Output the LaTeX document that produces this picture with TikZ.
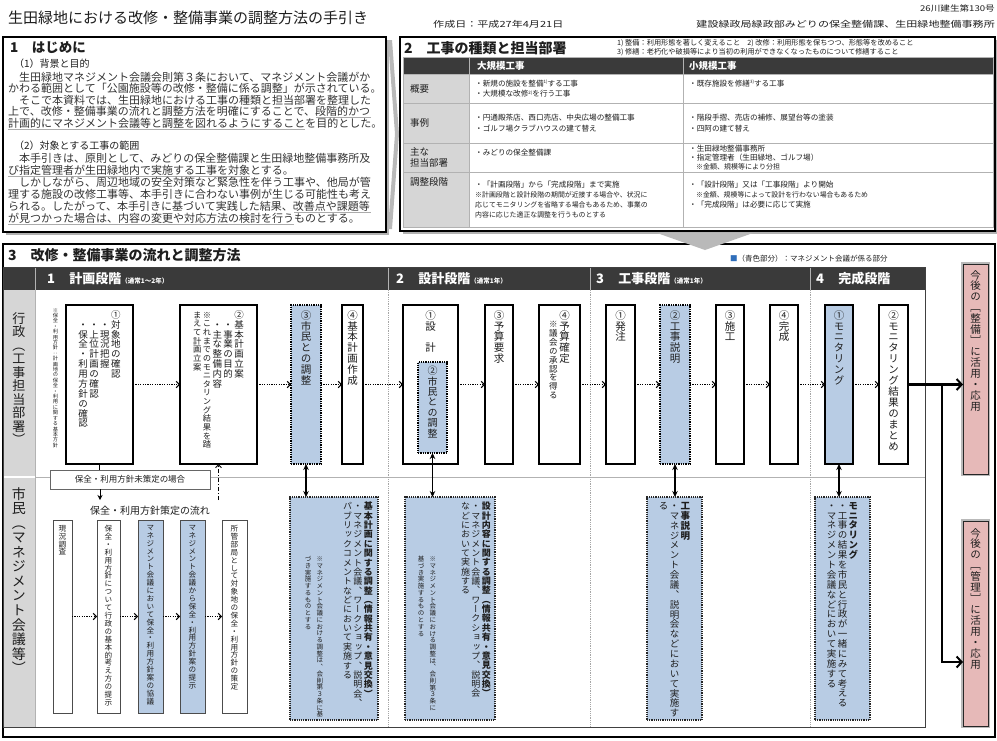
\documentclass[tikz,border=0pt]{standalone}
\usepackage{fontspec}
\setmainfont{Noto Sans CJK JP}
\newfontfamily\vfont[RawFeature=+vert]{Noto Sans CJK JP}
\usetikzlibrary{arrows.meta,calc}
\definecolor{blueF}{HTML}{B8CCE4}
\definecolor{pinkF}{HTML}{E6B9B8}
\definecolor{darkH}{HTML}{3A3A3A}
\definecolor{labG}{HTML}{D6D6D6}
\definecolor{txt}{HTML}{1E1E1E}
\definecolor{ptxt}{HTML}{333333}
\definecolor{legB}{HTML}{2F6EBA}
\newcommand\vsmall{\fontsize{8}{8}\selectfont}
\newcommand\sups[1]{\raisebox{2.5pt}{\fontsize{4.5}{4.5}\selectfont #1}}
\newcommand\mkbox[6]{\node[#1, anchor=north west, inner sep=0pt, outer sep=0pt, minimum width={(#5-#3)*1pt}, minimum height={(#6-#4)*1pt}] (#2) at (#3,#4) {};}

\ExplSyntaxOn
\seq_new:N \l__vt_cols_seq
\cs_new_protected:Npn \__vt_col_aux:nn #1#2
  {
    \group_begin:
    #1
    \hbox_to_wd:nn { 1em }
      {
        \hss
        \vtop
          {
            \baselineskip = 1.04em
            \lineskip = 0pt
            \lineskiplimit = -100pt
            \tl_map_inline:nn {#2} { \hbox_to_wd:nn { 1em } { \hss ##1 \hss } }
          }
        \hss
      }
    \group_end:
  }
\cs_generate_variant:Nn \__vt_col_aux:nn { ne }
\cs_new_protected:Npn \__vt_col:n #1
  {
    \tl_if_head_eq_charcode:nNTF {#1} !
      { \__vt_col_aux:ne { \bfseries } { \tl_tail:n {#1} } }
      {
        \tl_if_head_eq_charcode:nNTF {#1} ?
          { \__vt_col_aux:ne { \vsmall } { \tl_tail:n {#1} } }
          { \__vt_col_aux:nn { } {#1} }
      }
  }
\NewDocumentCommand \VT { O{0.15em} m }
  {
    \seq_set_split:Nnn \l__vt_cols_seq { | } {#2}
    \seq_reverse:N \l__vt_cols_seq
    \hbox:n
      {
        \seq_map_inline:Nn \l__vt_cols_seq { \__vt_col:n {##1} \hskip #1 \relax }
        \unskip
      }
  }
\ExplSyntaxOff

\begin{document}
\begin{tikzpicture}[x=1pt,y=-1pt,
  secbox/.style={draw=black, line width=1.5pt, fill=white, preaction={fill=black!30, transform canvas={xshift=2.5pt,yshift=-2.5pt}}},
  frame3/.style={draw=black, line width=1.2pt, fill=white},
  wbox/.style={draw=black, line width=1.3pt, fill=white},
  bbox/.style={draw=black, line width=1.3pt, densely dotted, fill=blueF},
  bboxs/.style={draw=black, line width=1.3pt, fill=blueF},
  cbox/.style={draw=black!85, line width=1.2pt, densely dotted, fill=blueF},
  fbox/.style={draw=black!70, line width=0.8pt, fill=white},
  fboxb/.style={draw=black!70, line width=0.8pt, fill=blueF},
  ffbox/.style={draw=black!60, line width=0.7pt, double=white, double distance=1.2pt, fill=white},
  mbox/.style={draw=black!60, line width=0.8pt, fill=white},
  pbox/.style={draw=black!85, line width=0.8pt, fill=pinkF, preaction={draw=gray!55, line width=4pt}},
  thd/.style={fill=darkH, draw=gray!60, line width=0.5pt},
  tlab/.style={fill=labG, draw=gray!60, line width=0.5pt},
  tcell/.style={fill=white, draw=gray!60, line width=0.5pt},
  vt/.style={inner sep=0pt, text=txt, anchor=north},
  ht/.style={inner sep=0pt, text=txt, anchor=west},
  cellt/.style={inner sep=0pt, text=txt, anchor=west, align=left, font=\fontsize{7.6}{10.5}\selectfont},
  hdr/.style={inner sep=0pt, text=white, anchor=west, font=\bfseries\fontsize{13}{13}\selectfont},
  uline/.style={gray!65, line width=0.9pt},
  flow/.style={line width=1.2pt, dash pattern=on 1.2pt off 1.2pt, -{Straight Barb[length=3pt,width=6.5pt,line width=1.1pt]}},
  dbl/.style={line width=1.2pt, {Stealth[length=6pt,width=5.5pt]}-{Stealth[length=6pt,width=5.5pt]}},
  conn/.style={line width=1pt},
  connarr/.style={line width=1pt, -{Stealth[length=5pt,width=5pt]}},
  dasharr/.style={line width=1pt, dash pattern=on 4pt off 2pt on 1pt off 2pt, -{Straight Barb[length=3pt,width=6pt]}},
  thickarr/.style={line width=2.5pt, -{Straight Barb[length=5pt,width=11pt,line width=2pt]}}
]
\useasboundingbox (0,0) rectangle (997,740);
\fill[white] (0,0) rectangle (997,740);

% ---------- header ----------
\node[ht, font=\fontsize{15}{15}\selectfont] (title) at (8,18) {生田緑地における改修・整備事業の調整方法の手引き};
\node[ht, anchor=east, font=\fontsize{8}{8}\selectfont] (docno) at (995,8) {\scalebox{1.2}[1]{26川建生第130号}};
\node[ht, font=\fontsize{8.5}{8.5}\selectfont] (date) at (433,24) {\scalebox{1.3}[1]{作成日：平成27年4月21日}};
\node[ht, anchor=east, font=\fontsize{8.5}{8.5}\selectfont] (dept) at (995,24) {\scalebox{1.3}[1]{建設緑政局緑政部みどりの保全整備課、生田緑地整備事務所}};

% ---------- section 1 ----------
\mkbox{secbox}{S1}{3}{37}{386}{232}
\fill[gray!55] (388,40) -- (392,40) -- (399,134) -- (392,229) -- (388,229) -- (395,134) -- cycle;
\node[ht, font=\bfseries\fontsize{13.5}{13.5}\selectfont] (s1t) at (10,48) {1\hspace{1em}はじめに};
\node[ht, font=\fontsize{10}{10}\selectfont] (s1a) at (14,64) {（1）背景と目的};
\draw[uline] (316,117.5) -- (371,117.5);
\draw[uline] (8,129.1) -- (305,129.1);
\draw[uline] (8,176.2) -- (250,176.2);
\draw[uline] (294,212.2) -- (371,212.2);
\draw[uline] (8,224.2) -- (294,224.2);
\node[ht, text=ptxt, anchor=north west, align=left, font=\fontsize{11}{11.6}\selectfont] (s1p1) at (8,71.5) {%
　生田緑地マネジメント会議会則第３条において、マネジメント会議がか\\
かわる範囲として「公園施設等の改修・整備に係る調整」が示されている。\\
　そこで本資料では、生田緑地における工事の種類と担当部署を整理した\\
上で、改修・整備事業の流れと調整方法を明確にすることで、段階的かつ\\
計画的にマネジメント会議等と調整を図れるようにすることを目的とした。};
\node[ht, font=\fontsize{10}{10}\selectfont] (s1b) at (14,146) {（2）対象とする工事の範囲};
\node[ht, text=ptxt, anchor=north west, align=left, font=\fontsize{11}{12}\selectfont] (s1p2) at (8,153) {%
　本手引きは、原則として、みどりの保全整備課と生田緑地整備事務所及\\
び指定管理者が生田緑地内で実施する工事を対象とする。\\
　しかしながら、周辺地域の安全対策など緊急性を伴う工事や、他局が管\\
理する施設の改修工事等、本手引きに合わない事例が生じる可能性も考え\\
られる。したがって、本手引きに基づいて実践した結果、改善点や課題等\\
が見つかった場合は、内容の変更や対応方法の検討を行うものとする。};

% ---------- section 2 ----------
\mkbox{secbox}{S2}{400}{37}{995}{231}
\node[ht, font=\bfseries\fontsize{14}{14}\selectfont] (s2t) at (404,48) {2\hspace{1em}工事の種類と担当部署};
\node[ht, anchor=north west, align=left, font=\fontsize{7.2}{8.4}\selectfont] (fn) at (617,39.5) {1) 整備：利用形態を著しく変えること　2) 改修：利用形態を保ちつつ、形態等を改めること\\3) 修繕：老朽化や破損等により当初の利用ができなくなったものについて修繕すること};
\mkbox{thd}{TH0}{403}{57}{469}{74}
\mkbox{thd}{TH1}{469}{57}{683}{74}
\mkbox{thd}{TH2}{683}{57}{993}{74}
\mkbox{tlab}{L1}{403}{74}{469}{103}
\mkbox{tcell}{A1}{469}{74}{683}{103}
\mkbox{tcell}{B1}{683}{74}{993}{103}
\mkbox{tlab}{L2}{403}{103}{469}{143}
\mkbox{tcell}{A2}{469}{103}{683}{143}
\mkbox{tcell}{B2}{683}{103}{993}{143}
\mkbox{tlab}{L3}{403}{143}{469}{172}
\mkbox{tcell}{A3}{469}{143}{683}{172}
\mkbox{tcell}{B3}{683}{143}{993}{172}
\mkbox{tlab}{L4}{403}{172}{469}{227}
\mkbox{tcell}{A4}{469}{172}{683}{227}
\mkbox{tcell}{B4}{683}{172}{993}{227}
\node[ht, text=white, font=\bfseries\fontsize{9.5}{9.5}\selectfont] at ($(TH1.west)+(8,0)$) {大規模工事};
\node[ht, text=white, font=\bfseries\fontsize{9.5}{9.5}\selectfont] at ($(TH2.west)+(6,0)$) {小規模工事};
\node[cellt, font=\fontsize{9.5}{11}\selectfont] at ($(L1.west)+(7,0)$) {概要};
\node[cellt, font=\fontsize{9.5}{11}\selectfont] at ($(L2.west)+(7,0)$) {事例};
\node[cellt, font=\fontsize{9.5}{11}\selectfont] at ($(L3.west)+(7,0)$) {主な\\担当部署};
\node[cellt, font=\fontsize{9.5}{11}\selectfont] at ($(L4.west)+(7,-18)$) {調整段階};
\node[cellt] at ($(A1.west)+(6,0)$) {・新規の施設を整備\sups{1)}する工事\\・大規模な改修\sups{2)}を行う工事};
\node[cellt] at ($(B1.west)+(6,-5)$) {・既存施設を修繕\sups{3)}する工事};
\node[cellt, font=\fontsize{7.6}{11.5}\selectfont] at ($(A2.west)+(6,0)$) {・円通殿茶店、西口売店、中央広場の整備工事\\・ゴルフ場クラブハウスの建て替え};
\node[cellt, font=\fontsize{7.6}{11.5}\selectfont] at ($(B2.west)+(6,0)$) {・階段手摺、売店の補修、展望台等の塗装\\・四阿の建て替え};
\node[cellt] at ($(A3.west)+(6,-5)$) {・みどりの保全整備課};
\node[cellt, font=\fontsize{7.6}{9.3}\selectfont] at ($(B3.west)+(6,0)$) {・生田緑地整備事務所\\・指定管理者（生田緑地、ゴルフ場）\\{\fontsize{7}{7}\selectfont 　※金額、規模等により分担}};
\node[cellt, font=\fontsize{7.6}{10}\selectfont] at ($(A4.west)+(6,0)$) {・「計画段階」から「完成段階」まで実施\\{\fontsize{6.9}{7}\selectfont ※計画段階と設計段階の期間が近接する場合や、状況に}\\{\fontsize{6.9}{7}\selectfont 応じてモニタリングを省略する場合もあるため、事業の}\\{\fontsize{6.9}{7}\selectfont 内容に応じた適正な調整を行うものとする}};
\node[cellt, font=\fontsize{7.6}{10}\selectfont] at ($(B4.west)+(6,-5)$) {・「設計段階」又は「工事段階」より開始\\{\fontsize{6.9}{7}\selectfont 　※金額、規模等によって設計を行わない場合もあるため}\\・「完成段階」は必要に応じて実施};

% ---------- section 3 ----------
\mkbox{frame3}{S3}{3}{244}{995}{737}
\fill[gray!55] (657,233) -- (753,233) -- (705,250) -- cycle;
\node[ht, font=\bfseries\fontsize{14}{14}\selectfont] (s3t) at (8,255) {3\hspace{1em}改修・整備事業の流れと調整方法};
\node[ht, font=\fontsize{7.5}{7.5}\selectfont] (legend) at (730,259) {{\color{legB}■}（青色部分）：マネジメント会議が係る部分};

\fill[darkH] (3,267) rectangle (925,290);
\fill[labG] (3,290) rectangle (35,727);
\draw[white, line width=1.5pt] (3,477) -- (35,477);
\draw[gray!60, line width=0.6pt] (35,477) -- (925,477);
\draw[gray!60, line width=0.8pt] (35,267) -- (35,727);
\foreach \xx in {388,590,810} {
  \draw[gray!60, line width=0.6pt] (\xx,267) -- (\xx,290);
  \draw[gray!70, densely dotted, line width=0.8pt] (\xx,290) -- (\xx,727);
}
\draw[black!75, line width=1pt] (3,267) rectangle (925,727);

\node[hdr] (H1) at (47,278.5) {1\hspace{1.1em}計画段階{\fontsize{6.5}{6.5}\selectfont（通常1～2年）}};
\node[hdr] (H2) at (396,278.5) {2\hspace{1.1em}設計段階{\fontsize{6.5}{6.5}\selectfont（通常1年）}};
\node[hdr] (H3) at (596,278.5) {3\hspace{1.1em}工事段階{\fontsize{6.5}{6.5}\selectfont（通常1年）}};
\node[hdr] (H4) at (816,278.5) {4\hspace{1.1em}完成段階};

% row labels
\node[vt, font=\vfont\fontsize{13}{13}\selectfont] (rl1) at (19,312) {\VT{行政（工事担当部署）}};
\node[vt, font=\vfont\fontsize{14}{14}\selectfont] (rl2) at (19,487) {\VT{市民（マネジメント会議等）}};

% administration row boxes
\mkbox{wbox}{P1a}{66}{305}{133}{464}
\mkbox{wbox}{P1b}{180}{305}{257}{464}
\mkbox{bbox}{P1c}{291}{305}{321}{464}
\mkbox{wbox}{P1d}{342}{305}{363}{464}
\mkbox{wbox}{P2a}{403}{305}{458}{464}
\mkbox{bbox}{P2in}{418}{362}{447}{453}
\mkbox{wbox}{P2b}{485}{305}{513}{464}
\mkbox{wbox}{P2c}{539}{305}{580}{464}
\mkbox{wbox}{P3a}{606}{305}{635}{464}
\mkbox{bbox}{P3b}{660}{305}{690}{464}
\mkbox{wbox}{P3c}{716}{305}{744}{464}
\mkbox{wbox}{P3d}{770}{305}{798}{464}
\mkbox{bboxs}{P4a}{825}{305}{853}{464}
\mkbox{wbox}{P4b}{879}{305}{908}{464}

\node[vt, font=\vfont\fontsize{5.2}{5.2}\selectfont] (note0) at (55.5,308) {\VT{※保全・利用方針：計画地の保全・利用に関する基本方針}};
\node[vt, font=\vfont\fontsize{9.5}{9.5}\selectfont] at ($(P1a.north)+(0,5)$) {\VT{①対象地の確認|　・現況把握|　・上位計画の確認|　・保全・利用方針の確認}};
\node[vt, font={\vfont\fontsize{9.5}{9.5}\selectfont\def\vsmall{\fontsize{8.3}{8.3}\selectfont}}] at ($(P1b.north)+(0,5)$) {\VT{②基本計画立案|　・事業の目的|　・主な整備内容|?※これまでのモニタリング結果を踏|?まえて計画立案}};
\node[vt, font=\vfont\fontsize{10.5}{10.5}\selectfont] at ($(P1c.north)+(0,5)$) {\VT{③市民との調整}};
\node[vt, font=\vfont\fontsize{10.5}{10.5}\selectfont] at ($(P1d.north)+(0,5)$) {\VT{④基本計画作成}};
\node[vt, font=\vfont\fontsize{10.5}{10.5}\selectfont] at ($(P2a.north)+(0,5)$) {\VT{①設　計}};
\node[vt, font=\vfont\fontsize{10}{10}\selectfont] at ($(P2in.north)+(0,4)$) {\VT{②市民との調整}};
\node[vt, font=\vfont\fontsize{10.5}{10.5}\selectfont] at ($(P2b.north)+(0,5)$) {\VT{③予算要求}};
\node[vt, font={\vfont\fontsize{10.5}{10.5}\selectfont\def\vsmall{\fontsize{8.5}{8.5}\selectfont}}] at ($(P2c.north)+(0,5)$) {\VT{④予算確定|?　※議会の承認を得る}};
\node[vt, font=\vfont\fontsize{10.5}{10.5}\selectfont] at ($(P3a.north)+(0,5)$) {\VT{①発注}};
\node[vt, font=\vfont\fontsize{10.5}{10.5}\selectfont] at ($(P3b.north)+(0,5)$) {\VT{②工事説明}};
\node[vt, font=\vfont\fontsize{10.5}{10.5}\selectfont] at ($(P3c.north)+(0,5)$) {\VT{③施工}};
\node[vt, font=\vfont\fontsize{10.5}{10.5}\selectfont] at ($(P3d.north)+(0,5)$) {\VT{④完成}};
\node[vt, font=\vfont\fontsize{10.5}{10.5}\selectfont] at ($(P4a.north)+(0,5)$) {\VT{①モニタリング}};
\node[vt, font=\vfont\fontsize{10.5}{10.5}\selectfont] at ($(P4b.north)+(0,5)$) {\VT{②モニタリング結果のまとめ}};

% pink boxes
\mkbox{pbox}{K1}{963}{264}{988}{474}
\mkbox{pbox}{K2}{963}{521}{988}{726}
\node[vt, font=\vfont\fontsize{10.5}{10.5}\selectfont] at ($(K1.north)+(0,6)$) {\VT{今後の［整備］に活用・応用}};
\node[vt, font=\vfont\fontsize{10.5}{10.5}\selectfont] at ($(K2.north)+(0,7)$) {\VT{今後の［管理］に活用・応用}};

% citizens row
\mkbox{mbox}{MI}{50}{470}{210}{489}
\node[font=\fontsize{8.5}{8.5}\selectfont, text=txt, inner sep=0pt] at (MI.center) {保全・利用方針未策定の場合};
\mkbox{ffbox}{FF}{45}{500}{255}{718}
\node[font=\fontsize{10}{10}\selectfont, text=txt, inner sep=0pt] (fft) at (150,511) {保全・利用方針策定の流れ};
\mkbox{fbox}{F1}{53}{520}{72}{713}
\mkbox{fbox}{F2}{97}{520}{120}{713}
\mkbox{fboxb}{F3}{138}{520}{163}{713}
\mkbox{fboxb}{F4}{180}{520}{205}{713}
\mkbox{fbox}{F5}{222}{520}{247}{713}
\node[vt, font=\vfont\fontsize{7.6}{7.6}\selectfont] at ($(F1.north)+(0,5)$) {\VT{現況調査}};
\node[vt, font=\vfont\fontsize{7.6}{7.6}\selectfont] at ($(F2.north)+(0,5)$) {\VT{保全・利用方針について行政の基本的考え方の提示}};
\node[vt, font=\vfont\fontsize{7.6}{7.6}\selectfont] at ($(F3.north)+(0,5)$) {\VT{マネジメント会議において保全・利用方針案の協議}};
\node[vt, font=\vfont\fontsize{7.6}{7.6}\selectfont] at ($(F4.north)+(0,5)$) {\VT{マネジメント会議から保全・利用方針案の提示}};
\node[vt, font=\vfont\fontsize{7.6}{7.6}\selectfont] at ($(F5.north)+(0,5)$) {\VT{所管部局として対象地の保全・利用方針の策定}};

\mkbox{cbox}{C1}{290}{497}{378}{720}
\mkbox{cbox}{C2}{405}{497}{495}{720}
\mkbox{cbox}{C3}{647}{497}{702}{720}
\mkbox{cbox}{C4}{815}{497}{870}{720}
\node[vt, anchor=north east, font=\vfont\fontsize{9}{9}\selectfont] at ($(C1.north east)+(-5,5)$) {\VT{!基本計画に関する調整（情報共有・意見交換）|・マネジメント会議、ワークショップ、説明会、|パブリックコメントなどにおいて実施する}};
\node[vt, font=\vfont\fontsize{6.5}{6.5}\selectfont] at (314,556) {\VT[0.8em]{※マネジメント会議における調整は、会則第３条に基|づき実施するものとする}};
\node[vt, anchor=north east, font=\vfont\fontsize{9}{9}\selectfont] at ($(C2.north east)+(-4,5)$) {\VT{!設計内容に関する調整（情報共有・意見交換）|・マネジメント会議、ワークショップ、説明会|などにおいて実施する}};
\node[vt, font=\vfont\fontsize{6.5}{6.5}\selectfont] at (427,556) {\VT[0.8em]{※マネジメント会議における調整は、会則第３条に|基づき実施するものとする}};
\node[vt, font=\vfont\fontsize{9.5}{9.5}\selectfont] at ($(C3.north)+(0,5)$) {\VT{!工事説明|・マネジメント会議、説明会などにおいて実施す|る}};
\node[vt, font=\vfont\fontsize{9.5}{9.5}\selectfont] at ($(C4.north)+(0,5)$) {\VT{!モニタリング|・工事の結果を市民と行政が一緒にみて考える|・マネジメント会議などにおいて実施する}};

% ---------- connectors ----------
\draw[flow] (P1a) -- (P1b);
\draw[flow] (P1b) -- (P1c);
\draw[flow] (P1c) -- (P1d);
\draw[flow] (P1d) -- (P2a);
\draw[flow] (P2a) -- (P2b);
\draw[flow] (P2b) -- (P2c);
\draw[flow] (P2c) -- (P3a);
\draw[flow] (P3a) -- (P3b);
\draw[flow] (P3b) -- (P3c);
\draw[flow] (P3c) -- (P3d);
\draw[flow] (P3d) -- (P4a);
\draw[flow] (P4a) -- (P4b);
\draw[flow] (F1) -- (F2);
\draw[flow] (F2) -- (F3);
\draw[flow] (F3) -- (F4);
\draw[flow] (F4) -- (F5);

\draw[dbl] (P1c.south) -- (P1c.south |- C1.north);
\draw[dbl] (P2in.south) -- (P2in.south |- C2.north);
\draw[dbl] (P3b.south) -- (P3b.south |- C3.north);
\draw[dbl] (P4a.south) -- (P4a.south |- C4.north);

\draw[conn] (P1a.south) -- (P1a.south |- MI.north);
\draw[connarr] ([xshift=-30pt]MI.south) -- ([xshift=-30pt]MI.south |- FF.north);
\draw[dasharr] (P1b.south |- FF.north) -- (P1b.south);

\coordinate (BR) at (942,384.5);
\coordinate (K2in) at (963,662);
\draw[thickarr] (P4b.east) -- (P4b.east -| K1.west);
\draw[thickarr] (BR) |- (K2in);
\end{tikzpicture}
\end{document}
